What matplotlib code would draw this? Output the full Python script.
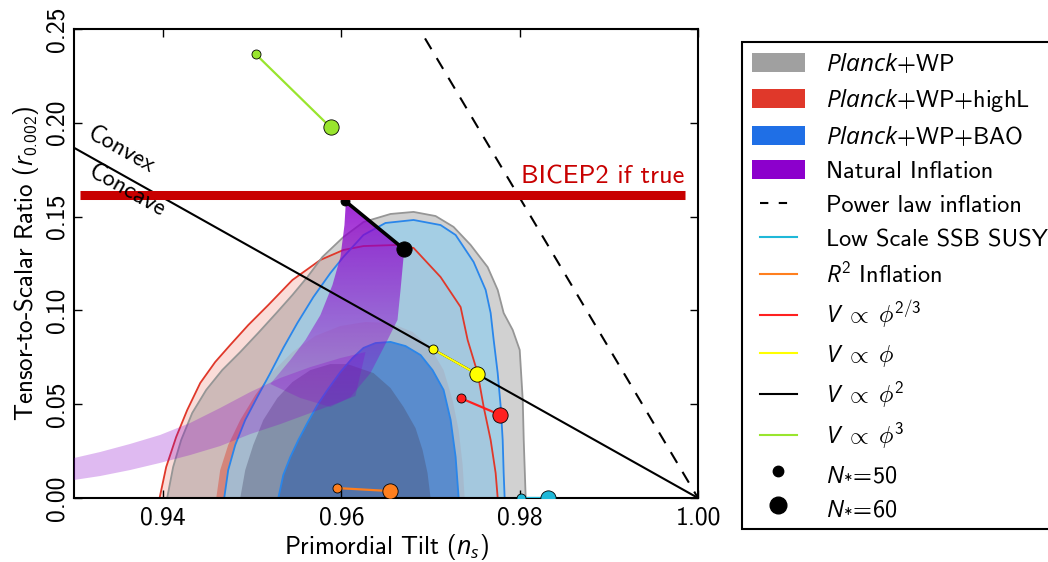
import matplotlib
matplotlib.use("Agg")
import matplotlib.pyplot as plt
import numpy as np
from matplotlib.patches import Polygon, Patch
from matplotlib.lines import Line2D
from matplotlib.legend_handler import HandlerLine2D

plt.rcParams['font.family'] = ['cmss10', 'DejaVu Sans']
plt.rcParams['mathtext.fontset'] = 'custom'
plt.rcParams['mathtext.rm'] = 'cmss10'
plt.rcParams['mathtext.sf'] = 'cmss10'
plt.rcParams['mathtext.it'] = 'Open Sans:italic'
plt.rcParams['mathtext.bf'] = 'cmss10'
plt.rcParams['axes.unicode_minus'] = False

# ---------------- data (ns, r) ----------------
# Planck+WP (grey) 95% and 68%
gray95_ns = [0.94045, 0.94112, 0.94202, 0.94326, 0.94483, 0.94663, 0.94865, 0.95067, 0.9527, 0.9545,
             0.95618, 0.95787, 0.96022, 0.96247, 0.96551, 0.96809, 0.97056, 0.97258, 0.97449, 0.9764,
             0.97753, 0.9782, 0.97921, 0.98, 0.98034, 0.98045, 0.98067]
gray95_r = [0.0, 0.0165, 0.0309, 0.0453, 0.0576, 0.0682, 0.0778, 0.0880, 0.0986, 0.1082,
            0.1178, 0.1285, 0.1391, 0.1471, 0.1514, 0.1525, 0.1503, 0.1445, 0.1349, 0.1231,
            0.1109, 0.0986, 0.0896, 0.0789, 0.0522, 0.0309, 0.0]
gray68_ns = [0.94865, 0.94921, 0.95011, 0.95124, 0.95281, 0.9545, 0.95652, 0.95876, 0.96067, 0.9636,
             0.96551, 0.96697, 0.96831, 0.9691, 0.96966, 0.97]
gray68_r = [0.0, 0.0149, 0.0283, 0.0416, 0.0533, 0.0618, 0.0682, 0.0714, 0.0714, 0.0666,
            0.0586, 0.0485, 0.0373, 0.0256, 0.0133, 0.0]

# Planck+WP+highL (red)
red95_ns = [0.9396, 0.94034, 0.94146, 0.9427, 0.94416, 0.94584, 0.94753, 0.94955, 0.9518, 0.9545,
            0.95764, 0.96022, 0.96247, 0.96629, 0.96809, 0.97112, 0.97337, 0.97416, 0.97528, 0.97596,
            0.97674, 0.9773, 0.97753]
red95_r = [0.0, 0.0165, 0.0325, 0.0469, 0.0613, 0.0725, 0.0816, 0.0922, 0.1029, 0.1162,
           0.1269, 0.1322, 0.1343, 0.1349, 0.1333, 0.1178, 0.1018, 0.0842, 0.0666, 0.0485,
           0.0309, 0.0133, 0.0]
red68_ns = [0.94596, 0.9464, 0.9473, 0.94865, 0.95034, 0.95225, 0.9545, 0.95708, 0.95989, 0.9627,
            0.96551, 0.96798, 0.97, 0.97146, 0.97247, 0.97315, 0.9736, 0.97382]
red68_r = [0.0, 0.0149, 0.0283, 0.0416, 0.0549, 0.0672, 0.0778, 0.0864, 0.0917, 0.0938,
           0.0933, 0.0885, 0.08, 0.0682, 0.0522, 0.0362, 0.0176, 0.0]

# Planck+WP+BAO (blue)
blue95_ns = [0.94685, 0.9473, 0.94809, 0.94921, 0.95056, 0.95202, 0.95348, 0.95506, 0.95685, 0.95876,
             0.96022, 0.96247, 0.96494, 0.96809, 0.97112, 0.97281, 0.97483, 0.97618, 0.97674, 0.97708,
             0.97753, 0.97787, 0.97809, 0.9782, 0.97831]
blue95_r = [0.0, 0.0149, 0.0283, 0.0416, 0.0538, 0.0666, 0.08, 0.0933, 0.1071, 0.1199,
            0.1285, 0.1402, 0.1466, 0.1482, 0.1455, 0.1402, 0.1258, 0.1109, 0.0986, 0.0842,
            0.0666, 0.0485, 0.0309, 0.0133, 0.0]
blue68_ns = [0.95292, 0.95348, 0.95427, 0.95517, 0.95618, 0.9573, 0.95843, 0.95989, 0.96124, 0.96247,
             0.96382, 0.96551, 0.96719, 0.96888, 0.97022, 0.97146, 0.97225, 0.97281, 0.97315]
blue68_r = [0.0, 0.0123, 0.0219, 0.0309, 0.04, 0.0496, 0.0576, 0.0672, 0.0746, 0.08,
            0.0826, 0.0832, 0.081, 0.0762, 0.0682, 0.0576, 0.0416, 0.0219, 0.0]

# Natural inflation: band (low f) and fan (towards phi^2)
band_top_ns = [0.93, 0.93292, 0.93629, 0.93966, 0.94303, 0.9464, 0.94978, 0.95315, 0.95652, 0.95989, 0.9627]
band_top_r = [0.0213, 0.0245, 0.0288, 0.0336, 0.04, 0.048, 0.0565, 0.064, 0.0698, 0.0746, 0.0778]
band_bot_ns = [0.93, 0.93292, 0.93629, 0.93966, 0.94303, 0.9464, 0.94978, 0.95315, 0.95652, 0.95989, 0.96157]
band_bot_r = [0.0096, 0.0117, 0.0149, 0.0187, 0.0229, 0.0277, 0.0341, 0.0394, 0.0453, 0.0512, 0.0544]
fan_ns = [0.95202, 0.95427, 0.95596, 0.95764, 0.95899, 0.95989, 0.96034, 0.9605, 0.967, 0.96697,
          0.96663, 0.96629, 0.96517, 0.96326, 0.96101, 0.95876, 0.95539]
fan_r = [0.0608, 0.0736, 0.0842, 0.0975, 0.1135, 0.1285, 0.1455, 0.158, 0.1327, 0.1285,
         0.1109, 0.0949, 0.0842, 0.0666, 0.0538, 0.0485, 0.0533]

# reference lines
convex_ns = [0.93, 1.00]
convex_r = [0.1867, 0.0]
powerlaw_ns = [0.96, 1.00]
powerlaw_r = [0.32, 0.0]
bicep_ns = [0.9307, 0.9985]
bicep_r = [0.1615, 0.1615]

# models: (N*=50, N*=60)
susy_ns, susy_r = [0.9801, 0.9832], [0.0, 0.0]
r2_ns, r2_r = [0.9595, 0.9655], [0.0053, 0.0037]
phi23_ns, phi23_r = [0.9734, 0.9778], [0.0532, 0.0443]
phi1_ns, phi1_r = [0.9703, 0.9752], [0.0792, 0.0661]
phi2_ns, phi2_r = [0.9604, 0.9670], [0.1584, 0.1327]
phi3_ns, phi3_r = [0.9504, 0.9588], [0.2365, 0.1975]

xticks = [0.94, 0.96, 0.98, 1.00]
xtick_labels = ['0.94', '0.96', '0.98', '1.00']
yticks = [0.00, 0.05, 0.10, 0.15, 0.20, 0.25]
ytick_labels = ['0.00', '0.05', '0.10', '0.15', '0.20', '0.25']

# colours
c_gray = '#a0a0a0'
c_red = '#e0382a'
c_blue = '#1f6fe6'
c_purple = '#8c00cc'
c_susy = '#1fb8d8'
c_r2 = '#ff7f1e'
c_phi23 = '#ff2020'
c_phi1 = '#ffff00'
c_phi2 = '#000000'
c_phi3 = '#99e52e'
c_bicep = '#c80000'

fig = plt.figure(figsize=(10.48, 5.62), dpi=100)
ax = fig.add_axes([74 / 1048, 64 / 562, 624 / 1048, 469 / 562])


def poly(ns, r, **kw):
    p = Polygon(np.column_stack([ns, r]), closed=True, **kw)
    ax.add_patch(p)
    return p


# filled contours
poly(red95_ns, red95_r, facecolor=(230/255, 80/255, 60/255), alpha=0.2, edgecolor='none', zorder=1)
poly(gray95_ns, gray95_r, facecolor=(0.5, 0.5, 0.5), alpha=0.36, edgecolor='none', zorder=1.1)
poly(red68_ns, red68_r, facecolor=(220/255, 70/255, 50/255), alpha=0.45, edgecolor='none', zorder=1.2)
poly(blue95_ns, blue95_r, facecolor=(150/255, 205/255, 235/255), alpha=0.75, edgecolor='none', zorder=1.3)
poly(blue68_ns, blue68_r, facecolor=(40/255, 110/255, 205/255), alpha=0.6, edgecolor='none', zorder=1.4)
poly(gray68_ns, gray68_r, facecolor=(70/255, 70/255, 100/255), alpha=0.35, edgecolor='none', zorder=1.5)

# contour outlines
ax.plot(red95_ns, red95_r, color=c_red, lw=1.3, zorder=2)
ax.plot(gray95_ns, gray95_r, color='#969696', lw=1.3, zorder=2)
ax.plot(blue95_ns, blue95_r, color='#2a86ea', lw=1.3, zorder=2)
ax.plot(blue68_ns, blue68_r, color='#2a86ea', lw=1.3, zorder=2)

# natural inflation
band_ns = band_top_ns + band_bot_ns[::-1]
band_r = band_top_r + band_bot_r[::-1]
poly(band_ns, band_r, facecolor=c_purple, alpha=0.27, edgecolor='none', zorder=3)
fan_patch = poly(fan_ns, fan_r, facecolor='none', edgecolor='none', zorder=3)
grad = np.zeros((200, 2, 4))
grad[..., 0] = 140 / 255
grad[..., 1] = 0.0
grad[..., 2] = 204 / 255
alpha_col = np.linspace(0.85, 0.2, 200)
grad[..., 3] = alpha_col[:, None]
im = ax.imshow(grad, extent=[0.95, 0.97, 0.045, 0.16], origin='upper', aspect='auto', zorder=3,
               interpolation='bilinear')
im.set_clip_path(fan_patch)

# reference lines
ax.plot(convex_ns, convex_r, color='k', lw=1.5, zorder=4)
pl, = ax.plot(powerlaw_ns, powerlaw_r, color='k', lw=1.5, zorder=4)
pl.set_dashes([6, 5])
ax.plot(bicep_ns, bicep_r, color=c_bicep, lw=6.5, solid_capstyle='butt', zorder=6)
ax.text(0.9985, 0.1675, 'BICEP2 if true', color=c_bicep, fontsize=19, ha='right', va='baseline', zorder=7)
ax.text(0.9352, 0.1855, 'Convex', fontsize=17.5, rotation=-29.5, ha='center', va='center', zorder=7)
ax.text(0.9359, 0.1636, 'Concave', fontsize=17.5, rotation=-29.5, ha='center', va='center', zorder=7)

# models
for ns, r, c, lw in [(susy_ns, susy_r, c_susy, 1.6), (r2_ns, r2_r, c_r2, 1.6),
                     (phi23_ns, phi23_r, c_phi23, 1.6), (phi1_ns, phi1_r, c_phi1, 1.6),
                     (phi2_ns, phi2_r, c_phi2, 2.6), (phi3_ns, phi3_r, c_phi3, 1.6)]:
    ax.plot(ns, r, color=c, lw=lw, zorder=5)
    ax.plot(ns[0], r[0], 'o', ms=6.5, mfc=c, mec='k', mew=0.6, zorder=5.5)
    ax.plot(ns[1], r[1], 'o', ms=11, mfc=c, mec='k', mew=0.6, zorder=5.5)

ax.set_xlim(0.93, 1.00)
ax.set_ylim(0.0, 0.25)
ax.set_xticks(xticks)
ax.set_xticklabels(xtick_labels)
ax.set_yticks(yticks)
ax.set_yticklabels(ytick_labels, rotation=90, va='center')
ax.tick_params(direction='in', top=True, right=True, length=6, width=1, labelsize=18.5)
ax.tick_params(axis='x', pad=6)
ax.tick_params(axis='y', pad=4)
for s in ax.spines.values():
    s.set_linewidth(1.5)
ax.set_xlabel(r'Primordial Tilt ($n_s$)', fontsize=18, labelpad=2)
ax.set_ylabel(r'Tensor-to-Scalar Ratio ($r_{0.002}$)', fontsize=18, labelpad=3)

# legend
handles = [
    Patch(facecolor=c_gray, edgecolor='none'),
    Patch(facecolor=c_red, edgecolor='none'),
    Patch(facecolor=c_blue, edgecolor='none'),
    Patch(facecolor=c_purple, edgecolor='none'),
]
line_handles = [
    Line2D([], [], color='k', lw=1.5, dashes=[4, 5]),
    Line2D([], [], color=c_susy, lw=1.5),
    Line2D([], [], color=c_r2, lw=1.5),
    Line2D([], [], color=c_phi23, lw=1.5),
    Line2D([], [], color=c_phi1, lw=1.5),
    Line2D([], [], color=c_phi2, lw=1.5),
    Line2D([], [], color=c_phi3, lw=1.5),
]
marker_handles = [
    Line2D([], [], ls='none', marker='o', ms=7.5, color='k'),
    Line2D([], [], ls='none', marker='o', ms=12, color='k'),
]
labels = [r'$\mathit{Planck}$+WP', r'$\mathit{Planck}$+WP+highL', r'$\mathit{Planck}$+WP+BAO',
          'Natural Inflation', 'Power law inflation', 'Low Scale SSB SUSY', r'$R^2$ Inflation',
          r'$V\;\propto\;\phi^{2/3}$', r'$V\;\propto\;\phi$', r'$V\;\propto\;\phi^2$', r'$V\;\propto\;\phi^3$',
          r'$N_{*}\!=\!50$', r'$N_{*}\!=\!60$']
hmap = {h: HandlerLine2D(numpoints=2, marker_pad=0.35) for h in line_handles}
leg = fig.legend(handles + line_handles + marker_handles, labels, loc='upper left',
                 bbox_to_anchor=(742 / 1048, 1 - 42 / 562), bbox_transform=fig.transFigure,
                 fontsize=17.5, frameon=True, fancybox=False, edgecolor='k', framealpha=1,
                 handlelength=2.2, handleheight=0.82, handletextpad=0.85, labelspacing=0.46,
                 borderpad=0.4, borderaxespad=0.0, handler_map=hmap)
leg.get_frame().set_linewidth(1.5)

fig.savefig('out.png', dpi=100)
